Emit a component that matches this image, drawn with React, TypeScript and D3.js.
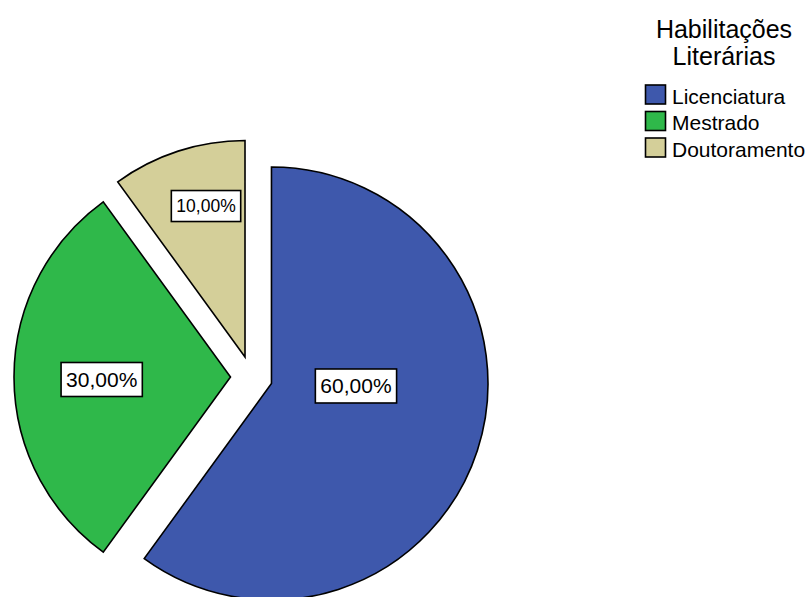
import React, { useEffect, useRef } from 'react';
import * as d3 from 'd3';

// chart data
const categories = ['Licenciatura', 'Mestrado', 'Doutoramento'];
const percentages = [60, 30, 10];
const sliceColors = ['#3e58ac', '#2fb84a', '#d4cf99'];
const legendTitle = ['Habilitações', 'Literárias'];

// label box offsets from each exploded slice centre (layout only)
const labelOffsets = [
  { dx: 84.5, dy: 2.5, size: 21 },
  { dx: -128.8, dy: 2.5, size: 21 },
  { dx: -39, dy: -151, size: 17.5 },
];

const W = 808;
const H = 597;
const FONT = '"Liberation Sans", Arial, sans-serif';

const App: React.FC = () => {
  const ref = useRef<SVGSVGElement | null>(null);

  useEffect(() => {
    const svg = d3.select(ref.current);
    svg.selectAll('*').remove();

    const cx = 251.5;
    const cy = 377;
    const r = 216.5;
    const explode = 21;

    const data = categories.map((c, i) => ({ cat: c, value: percentages[i], color: sliceColors[i] }));
    const pie = d3.pie<any>().sort(null).value(d => d.value).startAngle(0).endAngle(2 * Math.PI);
    const arc = d3.arc<any>().innerRadius(0).outerRadius(r);
    const arcs = pie(data);

    const g = svg.append('g').attr('transform', `translate(${cx},${cy})`);

    arcs.forEach((a, i) => {
      const mid = (a.startAngle + a.endAngle) / 2;
      const ox = Math.sin(mid) * explode;
      const oy = -Math.cos(mid) * explode;
      const sg = g.append('g').attr('transform', `translate(${ox},${oy})`);
      sg.append('path')
        .attr('d', arc(a) as string)
        .attr('fill', a.data.color)
        .attr('stroke', '#000')
        .attr('stroke-width', 1.6)
        .attr('stroke-linejoin', 'miter');

      const lo = labelOffsets[i];
      const lg = sg.append('g').attr('transform', `translate(${lo.dx},${lo.dy})`);
      const rect = lg.append('rect').attr('fill', '#fff').attr('stroke', '#000').attr('stroke-width', 1.6);
      const txt = lg.append('text')
        .attr('text-anchor', 'middle')
        .attr('dominant-baseline', 'central')
        .attr('font-family', FONT)
        .attr('font-size', lo.size)
        .attr('fill', '#000')
        .text(d3.format('.2f')(a.data.value).replace('.', ',') + '%');
      const bb = (txt.node() as SVGTextElement).getBBox();
      const px = 5;
      const py = 5.5;
      rect
        .attr('x', bb.x - px)
        .attr('y', -(bb.height / 2) - py)
        .attr('width', bb.width + 2 * px)
        .attr('height', bb.height + 2 * py);
    });

    // legend
    const lgd = svg.append('g');
    legendTitle.forEach((t, i) => {
      lgd.append('text')
        .attr('x', 724)
        .attr('y', 38 + i * 27)
        .attr('text-anchor', 'middle')
        .attr('font-family', FONT)
        .attr('font-size', 25)
        .attr('fill', '#000')
        .text(t);
    });
    const y0 = 85;
    const step = 26.5;
    categories.forEach((c, i) => {
      lgd.append('rect')
        .attr('x', 645.5)
        .attr('y', y0 + i * step)
        .attr('width', 20)
        .attr('height', 19)
        .attr('fill', sliceColors[i])
        .attr('stroke', '#000')
        .attr('stroke-width', 1.6);
      lgd.append('text')
        .attr('x', 672)
        .attr('y', y0 + i * step + 18.5)
        .attr('font-family', FONT)
        .attr('font-size', 21)
        .attr('fill', '#000')
        .text(c);
    });
  }, []);

  return (
    <div style={{ position: 'absolute', left: 0, top: 0 }}>
      <svg ref={ref} width={W} height={H} style={{ display: 'block', background: '#fff' }} />
    </div>
  );
};

export default App;
